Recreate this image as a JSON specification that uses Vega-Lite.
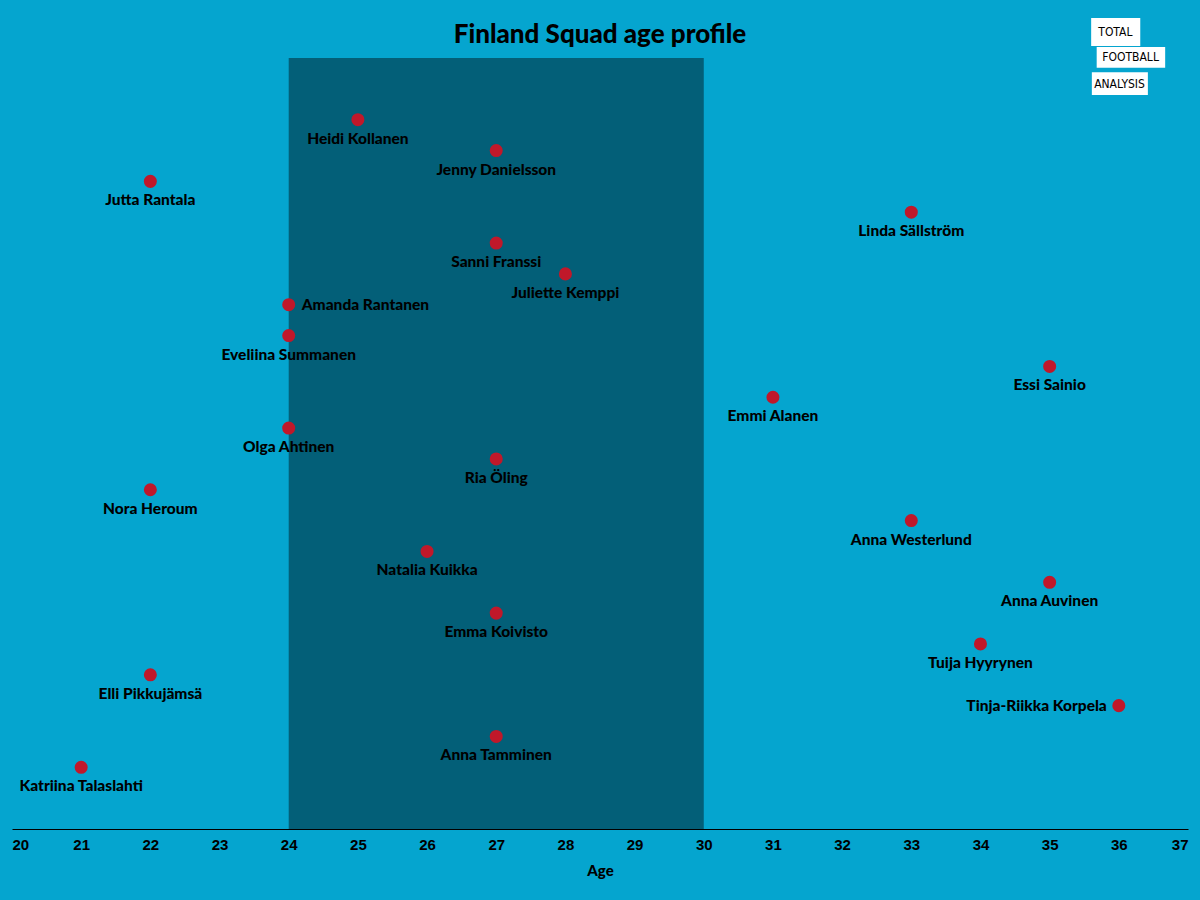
{
  "$schema": "https://vega.github.io/schema/vega-lite/v6.json",
  "autosize": "none",
  "width": 1176,
  "height": 771,
  "padding": {"left": 12, "top": 58, "right": 12, "bottom": 71},
  "background": "#05a5cf",
  "config": {"view": {"stroke": null}},
  "title": {"text": "Finland Squad age profile", "font": "Lato", "fontSize": 26, "fontWeight": 900, "color": "#000000", "anchor": "middle", "offset": -30},
  "datasets": {
    "players": [
      {"name": "Heidi Kollanen", "age": 25, "rank": 23, "pos": "below"},
      {"name": "Jenny Danielsson", "age": 27, "rank": 22, "pos": "below"},
      {"name": "Jutta Rantala", "age": 22, "rank": 21, "pos": "below"},
      {"name": "Linda Sällström", "age": 33, "rank": 20, "pos": "below"},
      {"name": "Sanni Franssi", "age": 27, "rank": 19, "pos": "below"},
      {"name": "Juliette Kemppi", "age": 28, "rank": 18, "pos": "below"},
      {"name": "Amanda Rantanen", "age": 24, "rank": 17, "pos": "right"},
      {"name": "Eveliina Summanen", "age": 24, "rank": 16, "pos": "below"},
      {"name": "Essi Sainio", "age": 35, "rank": 15, "pos": "below"},
      {"name": "Emmi Alanen", "age": 31, "rank": 14, "pos": "below"},
      {"name": "Olga Ahtinen", "age": 24, "rank": 13, "pos": "below"},
      {"name": "Ria Öling", "age": 27, "rank": 12, "pos": "below"},
      {"name": "Nora Heroum", "age": 22, "rank": 11, "pos": "below"},
      {"name": "Anna Westerlund", "age": 33, "rank": 10, "pos": "below"},
      {"name": "Natalia Kuikka", "age": 26, "rank": 9, "pos": "below"},
      {"name": "Anna Auvinen", "age": 35, "rank": 8, "pos": "below"},
      {"name": "Emma Koivisto", "age": 27, "rank": 7, "pos": "below"},
      {"name": "Tuija Hyyrynen", "age": 34, "rank": 6, "pos": "below"},
      {"name": "Elli Pikkujämsä", "age": 22, "rank": 5, "pos": "below"},
      {"name": "Tinja-Riikka Korpela", "age": 36, "rank": 4, "pos": "left"},
      {"name": "Anna Tamminen", "age": 27, "rank": 3, "pos": "below"},
      {"name": "Katriina Talaslahti", "age": 21, "rank": 2, "pos": "below"}
    ],
    "band": [{"from": 24, "to": 30, "bottom": 0, "top": 25}],
    "logo": [
      {"word": "TOTAL", "x0": 35.6, "x1": 36.31, "y0": 25.39, "y1": 26.3, "xc": 35.95, "yc": 25.85},
      {"word": "FOOTBALL", "x0": 35.68, "x1": 36.67, "y0": 24.68, "y1": 25.36, "xc": 36.17, "yc": 25.02},
      {"word": "ANALYSIS", "x0": 35.61, "x1": 36.42, "y0": 23.8, "y1": 24.54, "xc": 36.01, "yc": 24.17}
    ]
  },
  "layer": [
    {
      "data": {"name": "band"},
      "mark": {"type": "rect", "color": "#035f78"},
      "encoding": {
        "x": {"field": "from", "type": "quantitative", "scale": {"domain": [20, 37], "nice": false, "zero": false},
          "axis": {"title": "Age", "values": [20,21,22,23,24,25,26,27,28,29,30,31,32,33,34,35,36,37], "format": "d", "grid": false, "ticks": false, "domainColor": "#000000", "domainWidth": 1.2, "labelFont": "Liberation Sans", "labelFontWeight": "bold", "labelFontSize": 15, "labelColor": "#000000", "labelPadding": 8, "labelFlush": true, "titleFont": "Lato", "titleFontWeight": 900, "titleFontSize": 15, "titleColor": "#000000", "titlePadding": 11}},
        "x2": {"field": "to"},
        "y": {"field": "bottom", "type": "quantitative", "scale": {"domain": [0, 25], "nice": false}, "axis": null},
        "y2": {"field": "top"}
      }
    },
    {
      "data": {"name": "logo"},
      "mark": {"type": "rect", "color": "#ffffff", "clip": false},
      "encoding": {
        "x": {"field": "x0", "type": "quantitative"},
        "x2": {"field": "x1"},
        "y": {"field": "y0", "type": "quantitative"},
        "y2": {"field": "y1"}
      }
    },
    {
      "data": {"name": "logo"},
      "mark": {"type": "text", "font": "DejaVu Sans Condensed", "fontSize": 12, "color": "#000000", "align": "center", "baseline": "middle", "clip": false},
      "encoding": {
        "x": {"field": "xc", "type": "quantitative"},
        "y": {"field": "yc", "type": "quantitative"},
        "text": {"field": "word"}
      }
    },
    {
      "data": {"name": "players"},
      "mark": {"type": "circle", "size": 170, "color": "#c0182a", "opacity": 1},
      "encoding": {
        "x": {"field": "age", "type": "quantitative"},
        "y": {"field": "rank", "type": "quantitative"}
      }
    },
    {
      "data": {"name": "players"},
      "transform": [{"filter": "datum.pos === 'below'"}],
      "mark": {"type": "text", "font": "Lato", "fontWeight": 900, "fontSize": 15.5, "color": "#000000", "align": "center", "baseline": "middle", "dy": 19},
      "encoding": {
        "x": {"field": "age", "type": "quantitative"},
        "y": {"field": "rank", "type": "quantitative"},
        "text": {"field": "name"}
      }
    },
    {
      "data": {"name": "players"},
      "transform": [{"filter": "datum.pos === 'right'"}],
      "mark": {"type": "text", "font": "Lato", "fontWeight": 900, "fontSize": 15.5, "color": "#000000", "align": "left", "baseline": "middle", "dx": 13},
      "encoding": {
        "x": {"field": "age", "type": "quantitative"},
        "y": {"field": "rank", "type": "quantitative"},
        "text": {"field": "name"}
      }
    },
    {
      "data": {"name": "players"},
      "transform": [{"filter": "datum.pos === 'left'"}],
      "mark": {"type": "text", "font": "Lato", "fontWeight": 900, "fontSize": 15.5, "color": "#000000", "align": "right", "baseline": "middle", "dx": -12},
      "encoding": {
        "x": {"field": "age", "type": "quantitative"},
        "y": {"field": "rank", "type": "quantitative"},
        "text": {"field": "name"}
      }
    }
  ]
}
